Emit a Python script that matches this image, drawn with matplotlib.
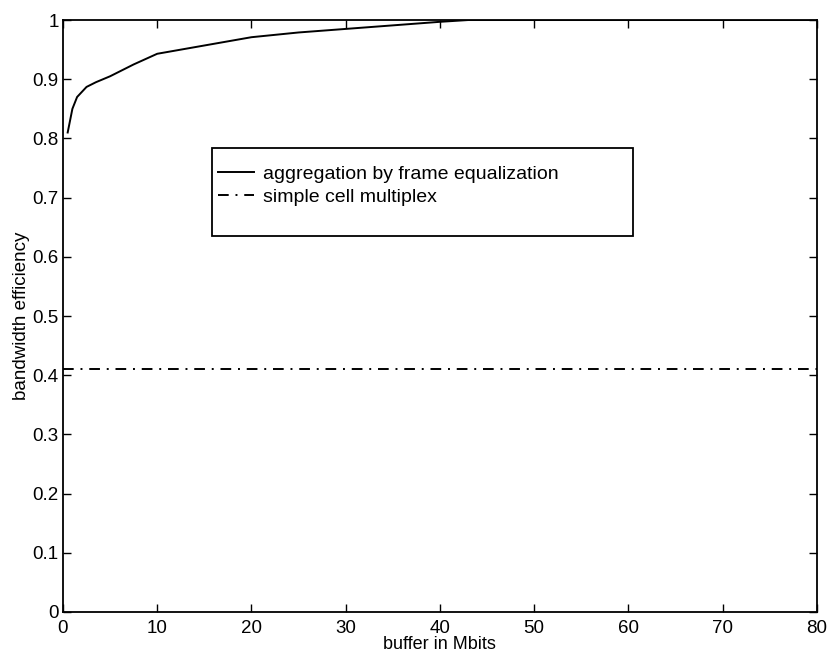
import numpy as np
import matplotlib
matplotlib.use('Agg')
import matplotlib.pyplot as plt
from matplotlib.patches import Rectangle

plt.rcParams['font.family'] = ['Liberation Sans', 'DejaVu Sans']

# values
buffer_mbits = [0.5, 1.0, 1.5, 2.5, 3.5, 5, 7.5, 10, 15, 20, 25, 30, 35, 40, 43, 50, 60, 70, 80]
eff_aggregation = [0.81, 0.85, 0.87, 0.887, 0.895, 0.905, 0.925, 0.943, 0.957, 0.971, 0.979, 0.985, 0.991, 0.997, 1.0, 1.0, 1.0, 1.0, 1.0]

mux_buffer = [0, 80]
eff_multiplex = [0.41, 0.41]

xticks = [0, 10, 20, 30, 40, 50, 60, 70, 80]
yticks = [0, 0.1, 0.2, 0.3, 0.4, 0.5, 0.6, 0.7, 0.8, 0.9, 1]
ytick_labels = ['0', '0.1', '0.2', '0.3', '0.4', '0.5', '0.6', '0.7', '0.8', '0.9', '1']

fig = plt.figure(figsize=(8.34, 6.57), dpi=100)
ax = fig.add_axes([0.0755, 0.0685, 0.904, 0.901])

ax.plot(buffer_mbits, eff_aggregation, color='black', lw=1.4,
        label='aggregation by frame equalization')
ax.plot(mux_buffer, eff_multiplex, color='black', lw=1.4,
        linestyle=(0, (5.5, 3.5, 1, 3.5)), label='simple cell multiplex')

ax.set_xlim(0, 80)
ax.set_ylim(0, 1)
ax.set_xticks(xticks)
ax.set_yticks(yticks)
ax.set_yticklabels(ytick_labels)
ax.tick_params(direction='in', top=True, right=True, length=6, width=1,
               labelsize=13.5)
ax.tick_params(axis='x', pad=6)
ax.tick_params(axis='y', pad=3)
for s in ax.spines.values():
    s.set_linewidth(1.3)

ax.set_xlabel('buffer in Mbits', fontsize=13, labelpad=-1)
ax.set_ylabel('bandwidth efficiency', fontsize=13.5, labelpad=2)

# legend box is taller than its two entries in the original
ax.add_patch(Rectangle((0.1976, 0.635), 0.5584, 0.149, transform=ax.transAxes,
                       fill=False, edgecolor='black', lw=1.3, zorder=5))
leg = ax.legend(loc='upper left', bbox_to_anchor=(0.1976, 0.765),
                fontsize=14, frameon=False, handlelength=1.85, borderpad=0.3,
                labelspacing=0.3, handletextpad=0.45, borderaxespad=0)

fig.savefig('out.png', dpi=100, facecolor='white')
